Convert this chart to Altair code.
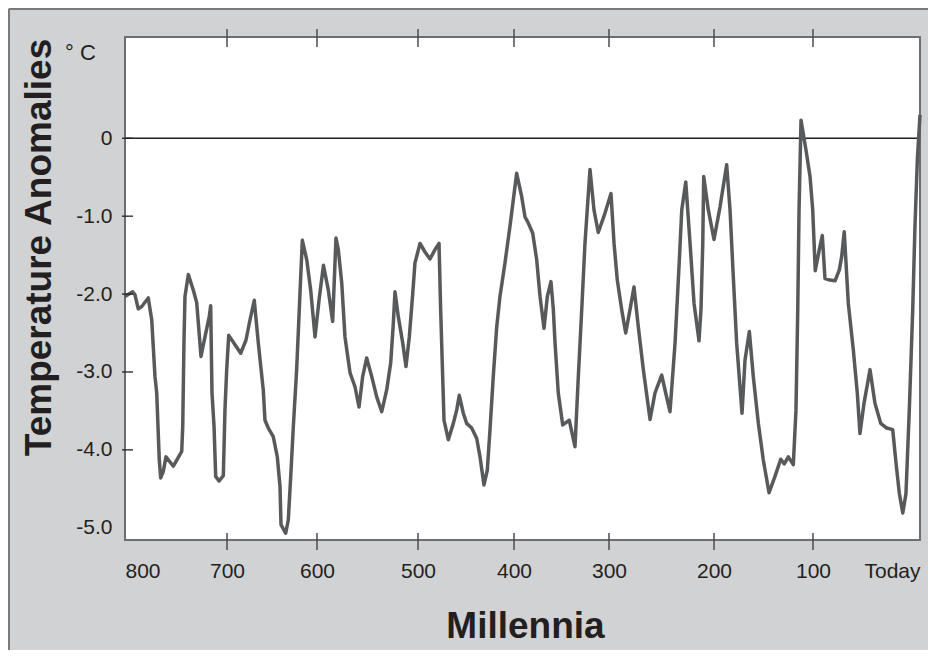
import altair as alt
import pandas as pd

# ---- data (thousands of years ago, °C anomaly) ----
ages = [800.0, 792.5, 790.2, 787.0, 783.6, 777.2, 773.8, 770.6, 768.9, 766.4,
        765.0, 762.5, 759.8, 752.6, 744.4, 743.4, 742.2, 741.2, 737.9, 733.0,
        729.7, 725.5, 721.6, 717.4, 716.0, 714.7, 712.7, 711.1, 707.8, 703.6,
        702.0, 700.3, 698.1, 691.1, 684.8, 678.9, 674.4, 669.7, 665.2, 659.7,
        657.8, 654.1, 648.6, 644.1, 641.1, 640.0, 634.8, 631.9, 629.2, 626.3,
        622.6, 619.7, 616.3, 611.4, 607.0, 602.2, 598.0, 593.6, 588.8, 584.5,
        581.2, 578.9, 575.5, 572.3, 567.3, 562.4, 558.4, 554.8, 550.8, 545.8,
        540.9, 535.9, 531.0, 527.0, 524.4, 522.8, 519.5, 515.1, 511.9, 508.6,
        505.2, 503.0, 497.9, 492.7, 487.5, 482.3, 478.1, 476.4, 474.3, 472.9,
        468.4, 463.2, 459.7, 457.0, 452.8, 449.3, 444.1, 438.9, 435.4, 431.3,
        427.8, 425.0, 421.6, 418.0, 414.6, 409.4, 404.2, 397.2, 391.9, 388.4,
        384.9, 380.3, 376.1, 372.6, 368.4, 364.9, 361.1, 358.6, 356.8, 353.4,
        348.7, 341.8, 335.8, 332.3, 328.7, 325.3, 320.0, 315.8, 311.3, 304.2,
        298.1, 295.2, 292.1, 287.9, 284.1, 280.0, 276.2, 272.1, 267.3, 260.9,
        256.2, 249.8, 246.0, 241.9, 237.1, 233.0, 230.7, 226.9, 222.8, 219.0,
        214.3, 212.4, 210.7, 209.8, 205.4, 200.0, 193.9, 187.2, 183.8, 180.5,
        177.1, 171.7, 168.7, 164.3, 160.3, 155.2, 150.2, 144.4, 138.4, 132.6,
        129.0, 124.9, 119.9, 117.2, 115.4, 114.1, 112.1, 107.1, 103.0, 100.3,
        97.9, 94.1, 91.3, 88.8, 84.1, 79.4, 75.4, 73.2, 70.8, 67.0,
        62.3, 58.6, 56.1, 52.3, 46.7, 42.1, 36.7, 31.1, 25.5, 22.4,
        19.3, 16.1, 13.1, 10.0, 6.8, 4.7, 2.5, 0.0]

temps = [-2.03, -1.97, -2.01, -2.19, -2.16, -2.05, -2.33, -3.06, -3.27, -4.13,
         -4.36, -4.28, -4.09, -4.21, -4.02, -3.70, -2.63, -2.03, -1.75, -1.95,
         -2.11, -2.80, -2.55, -2.29, -2.15, -3.27, -3.70, -4.34, -4.40, -4.33,
         -3.49, -2.97, -2.53, -2.65, -2.76, -2.59, -2.33, -2.08, -2.63, -3.23,
         -3.62, -3.72, -3.83, -4.09, -4.47, -4.96, -5.07, -4.90, -4.34, -3.70,
         -2.97, -2.20, -1.31, -1.56, -1.95, -2.55, -2.08, -1.63, -1.95, -2.35,
         -1.28, -1.43, -1.86, -2.55, -3.01, -3.19, -3.45, -3.06, -2.82, -3.06,
         -3.32, -3.51, -3.23, -2.88, -2.37, -1.97, -2.29, -2.63, -2.93, -2.55,
         -1.99, -1.60, -1.35, -1.46, -1.55, -1.43, -1.35, -2.20, -3.06, -3.62,
         -3.87, -3.66, -3.49, -3.30, -3.53, -3.66, -3.72, -3.85, -4.09, -4.45,
         -4.26, -3.74, -3.06, -2.42, -2.03, -1.60, -1.13, -0.45, -0.75, -1.01,
         -1.09, -1.22, -1.56, -2.03, -2.44, -2.03, -1.84, -2.20, -2.63, -3.27,
         -3.68, -3.62, -3.96, -3.06, -2.20, -1.35, -0.40, -0.92, -1.21, -0.96,
         -0.71, -1.35, -1.82, -2.20, -2.50, -2.20, -1.91, -2.42, -2.97, -3.61,
         -3.27, -3.04, -3.27, -3.51, -2.63, -1.56, -0.92, -0.56, -1.35, -2.12,
         -2.60, -2.20, -1.35, -0.49, -0.92, -1.30, -0.88, -0.34, -0.92, -1.78,
         -2.63, -3.53, -2.85, -2.48, -3.06, -3.66, -4.13, -4.55, -4.34, -4.12,
         -4.18, -4.09, -4.19, -3.49, -2.20, -0.92, 0.23, -0.15, -0.49, -0.92,
         -1.70, -1.43, -1.25, -1.80, -1.82, -1.83, -1.69, -1.52, -1.20, -2.12,
         -2.72, -3.27, -3.79, -3.40, -2.97, -3.40, -3.66, -3.72, -3.74, -4.17,
         -4.56, -4.81, -4.56, -3.49, -2.20, -1.13, -0.28, 0.30]

label_ages = [800, 700, 600, 500, 400, 300, 200, 100, 0]
tick_ages = [700, 600, 500, 400, 300, 200, 100]
temp_labels = [0, -1, -2, -3, -4, -5]
temp_ticks = [0, -1, -2, -3, -4]

FONT = "Liberation Sans"
INK = "#231f20"
LINE = "#58595b"
BG = "#d1d2d4"

df = pd.DataFrame({"ka": ages, "temp": temps})

# the original's tick spacing is slightly uneven: piecewise-linear axis
x_scale = alt.Scale(domain=label_ages,
                    range=[0, 102, 192, 293, 389, 484, 589, 688, 795],
                    nice=False, zero=False)
y_scale = alt.Scale(domain=[-5.157, 1.30], nice=False, zero=False)

x_axis = alt.Axis(
    values=label_ages,
    labelExpr="datum.value == 0 ? 'Today' : datum.label",
    labelFont=FONT, labelFontSize=21, labelColor=INK, labelPadding=20,
    labelFlush=True, labelOverlap=False, labelAngle=0,
    ticks=False, tickSize=0, domain=False, grid=False,
    title="Millennia", titleFont=FONT, titleFontSize=37, titleFontWeight="bold",
    titleColor=INK, titleX=400, titleY=97, titleAlign="center",
    titleBaseline="alphabetic",
)
y_axis = alt.Axis(
    values=temp_labels,
    labelExpr="datum.value == 0 ? '0' : '-' + format(-datum.value, '.1f')",
    labelFont=FONT, labelFontSize=21, labelColor=INK, labelPadding=13,
    labelBaseline="middle", labelOverlap=False,
    ticks=False, tickSize=0, domain=False, grid=False,
    title="Temperature Anomalies", titleFont=FONT, titleFontSize=37,
    titleFontWeight="bold", titleColor=INK, titleAngle=270,
    titleX=-75, titleY=210, titleAlign="center", titleBaseline="alphabetic",
)

X = lambda: alt.X("ka:Q", scale=x_scale, axis=x_axis, title="Millennia")
Y = lambda: alt.Y("temp:Q", scale=y_scale, axis=y_axis, title="Temperature Anomalies")

zero = alt.Chart(pd.DataFrame({"temp": [0]})).mark_rule(
    color=INK, strokeWidth=1.3
).encode(y=Y())

curve = alt.Chart(df).mark_line(
    color=LINE, strokeWidth=3.5, strokeJoin="round"
).encode(x=X(), y=Y())

tick_df = pd.DataFrame({"ka": tick_ages})
top_ticks = alt.Chart(tick_df).mark_rule(color="#4d4d4f", strokeWidth=1.5).encode(
    x=X(), y=alt.value(-8), y2=alt.value(10))
bottom_ticks = alt.Chart(tick_df).mark_rule(color="#4d4d4f", strokeWidth=1.5).encode(
    x=X(), y=alt.value(496), y2=alt.value(513))
y_ticks = alt.Chart(pd.DataFrame({"temp": temp_ticks})).mark_rule(
    color=INK, strokeWidth=1.3
).encode(y=Y(), x=alt.value(-3), x2=alt.value(8))

unit = alt.Chart(pd.DataFrame({"t": ["° C"]})).mark_text(
    align="left", baseline="alphabetic", font=FONT, fontSize=22, color=INK
).encode(text="t:N", x=alt.value(-60), y=alt.value(23))

frame_df = pd.DataFrame({"k": [0]})
border_top = alt.Chart(frame_df).mark_rule(color="#7a7a7c", strokeWidth=2).encode(
    x=alt.value(-116), x2=alt.value(803), y=alt.value(-28))
border_left = alt.Chart(frame_df).mark_rule(color="#7a7a7c", strokeWidth=2).encode(
    x=alt.value(-116), y=alt.value(-28), y2=alt.value(613))

chart = alt.layer(
    zero, curve, top_ticks, bottom_ticks, y_ticks, unit, border_top, border_left
).properties(
    width=795, height=503,
    autosize=alt.AutoSizeParams(type="none"),
    padding={"left": 117, "top": 29, "right": 8, "bottom": 110},
    background=BG,
).configure_view(
    fill="white", stroke="#6d6e71", strokeWidth=2
)

chart.save("out.html", embed_options={"renderer": "svg", "actions": False})
